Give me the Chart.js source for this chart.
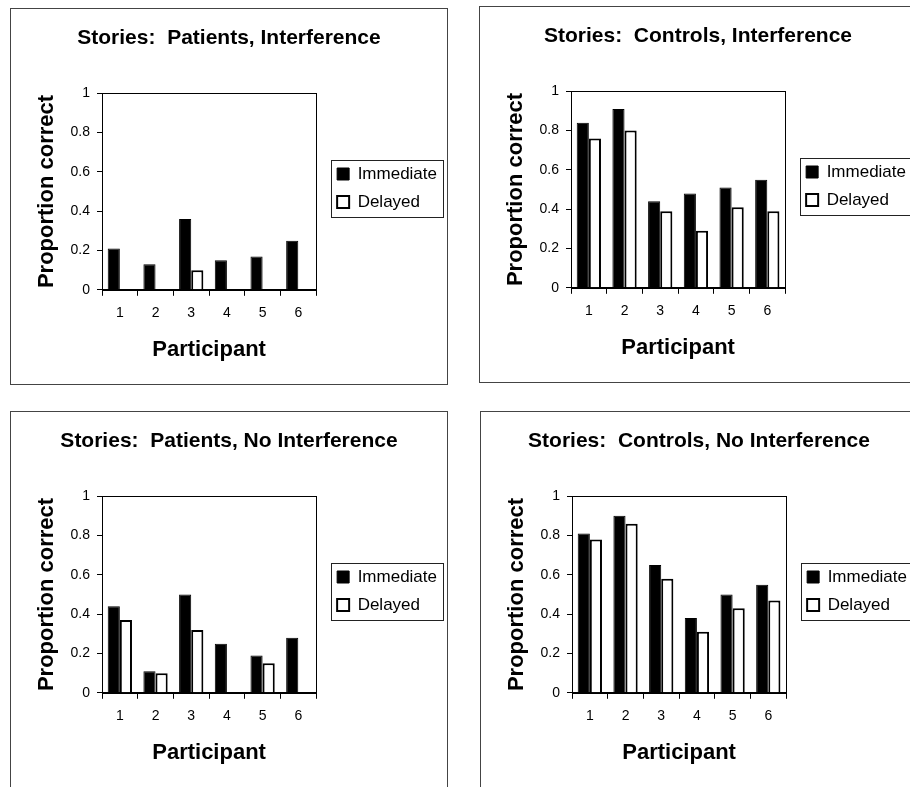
<!DOCTYPE html>
<html>
<head>
<meta charset="utf-8">
<script src="https://cdn.jsdelivr.net/npm/chart.js@4/dist/chart.umd.min.js"></script>
<style>
  body { margin: 0; background: #fff; width: 910px; height: 787px; overflow: hidden; position: relative; }
  .panel { position: absolute; width: 436px; height: 375px; border: 1px solid #444; background: #fff; }
  .panel canvas { display: block; }
</style>
</head>
<body>
<div class="panel" style="left:10px; top:8px;"><canvas id="c1" width="436" height="375"></canvas></div>
<div class="panel" style="left:479px; top:6px;"><canvas id="c2" width="436" height="375"></canvas></div>
<div class="panel" style="left:10px; top:411px;"><canvas id="c3" width="436" height="375"></canvas></div>
<div class="panel" style="left:480px; top:411px;"><canvas id="c4" width="436" height="375"></canvas></div>
<script>
// participants on the x axis
const participants = ['1', '2', '3', '4', '5', '6'];

// Patients, Interference
const patIntImmediate = [0.21, 0.13, 0.36, 0.15, 0.17, 0.25];
const patIntDelayed   = [0, 0, 0.10, 0, 0, 0];

// Controls, Interference
const ctlIntImmediate = [0.84, 0.91, 0.44, 0.48, 0.51, 0.55];
const ctlIntDelayed   = [0.76, 0.80, 0.39, 0.29, 0.41, 0.39];

// Patients, No Interference
const patNoImmediate = [0.44, 0.11, 0.50, 0.25, 0.19, 0.28];
const patNoDelayed   = [0.37, 0.10, 0.32, 0, 0.15, 0];

// Controls, No Interference
const ctlNoImmediate = [0.81, 0.90, 0.65, 0.38, 0.50, 0.55];
const ctlNoDelayed   = [0.78, 0.86, 0.58, 0.31, 0.43, 0.47];

const yMin = 0, yMax = 1, yStep = 0.2;

const FONT = "'Liberation Sans', Arial, Helvetica, sans-serif";

// the legend is wider than chart.js allows a side box to be by default
const legendRoom = {
    id: 'legendRoom',
    beforeLayout(chart) {
        const lg = chart.legend;
        if (lg && !lg.$wide) {
            const update = lg.update;
            lg.update = function (maxWidth, maxHeight, margins) {
                return update.call(this, Math.max(maxWidth, 150), maxHeight, margins);
            };
            lg.$wide = true;
        }
    }
};

// box round the plot area and round the legend, like the old Excel charts
const framePlugin = {
    id: 'frame',
    afterDraw(chart) {
        const ctx = chart.ctx;
        const a = chart.chartArea;
        ctx.save();
        ctx.strokeStyle = '#000';
        ctx.lineWidth = 1;
        ctx.strokeRect(Math.round(a.left) + 0.5, Math.round(a.top) + 0.5,
            Math.round(a.right - a.left), Math.round(a.bottom - a.top));
        const hb = chart.legend.legendHitBoxes;
        if (hb && hb.length) {
            let l = Infinity, t = Infinity, r = -Infinity, b = -Infinity;
            hb.forEach(h => {
                l = Math.min(l, h.left); t = Math.min(t, h.top);
                r = Math.max(r, h.left + h.width); b = Math.max(b, h.top + h.height);
            });
            ctx.strokeStyle = '#222';
            ctx.strokeRect(Math.round(l - 6) + 0.5, Math.round(t - 6) + 0.5,
                Math.round(r - l + 12), Math.round(b - t + 12));
        }
        ctx.restore();
    }
};

function makeChart(id, title, immediate, delayed) {
    return new Chart(document.getElementById(id), {
        type: 'bar',
        data: {
            labels: participants,
            datasets: [{
                label: 'Immediate',
                data: immediate,
                backgroundColor: '#000',
                borderColor: '#000',
                borderWidth: 1,
                categoryPercentage: 0.68,
                barPercentage: 1
            }, {
                label: 'Delayed',
                data: delayed,
                backgroundColor: '#fff',
                borderColor: '#000',
                borderWidth: 2,
                borderSkipped: 'bottom',
                categoryPercentage: 0.68,
                barPercentage: 1
            }]
        },
        options: {
            responsive: false,
            animation: false,
            layout: { padding: { left: 0, right: 0, top: 0, bottom: 17 } },
            plugins: {
                tooltip: { enabled: false },
                title: {
                    display: true,
                    text: title,
                    color: '#000',
                    font: { family: FONT, size: 21, weight: 'bold' },
                    padding: { top: 17, bottom: 42 }
                },
                legend: {
                    position: 'right',
                    labels: {
                        color: '#000',
                        font: { family: FONT, size: 17 },
                        boxWidth: 12,
                        boxHeight: 12,
                        padding: 11
                    }
                }
            },
            scales: {
                x: {
                    offset: true,
                    grid: { display: true, offset: true, drawOnChartArea: false, tickLength: 6, color: '#000' },
                    border: { display: true, color: '#000' },
                    ticks: { color: '#000', font: { family: FONT, size: 14 }, padding: 9 },
                    title: {
                        display: true, text: 'Participant', color: '#000',
                        font: { family: FONT, size: 22, weight: 'bold' },
                        padding: { top: 6, bottom: 4 }
                    }
                },
                y: {
                    min: yMin, max: yMax,
                    grid: { display: true, drawOnChartArea: false, tickLength: 5, color: '#000' },
                    border: { display: true, color: '#000' },
                    ticks: {
                        stepSize: yStep, color: '#000', font: { family: FONT, size: 14 }, padding: 7,
                        callback: v => String(+v.toFixed(1))
                    },
                    title: {
                        display: true, text: 'Proportion correct', color: '#000',
                        font: { family: FONT, size: 22, weight: 'bold' },
                        padding: { top: 23, bottom: 8 }
                    },
                    afterFit(scale) { scale.width = 91; }
                },
                // empty strip between plot and legend
                gap: {
                    type: 'linear', position: 'right', display: true,
                    grid: { display: false }, border: { display: false },
                    ticks: { display: false },
                    afterFit(scale) { scale.width = 10; }
                }
            }
        },
        plugins: [legendRoom, framePlugin]
    });
}

makeChart('c1', 'Stories:  Patients, Interference', patIntImmediate, patIntDelayed);
makeChart('c2', 'Stories:  Controls, Interference', ctlIntImmediate, ctlIntDelayed);
makeChart('c3', 'Stories:  Patients, No Interference', patNoImmediate, patNoDelayed);
makeChart('c4', 'Stories:  Controls, No Interference', ctlNoImmediate, ctlNoDelayed);
</script>
</body>
</html>
